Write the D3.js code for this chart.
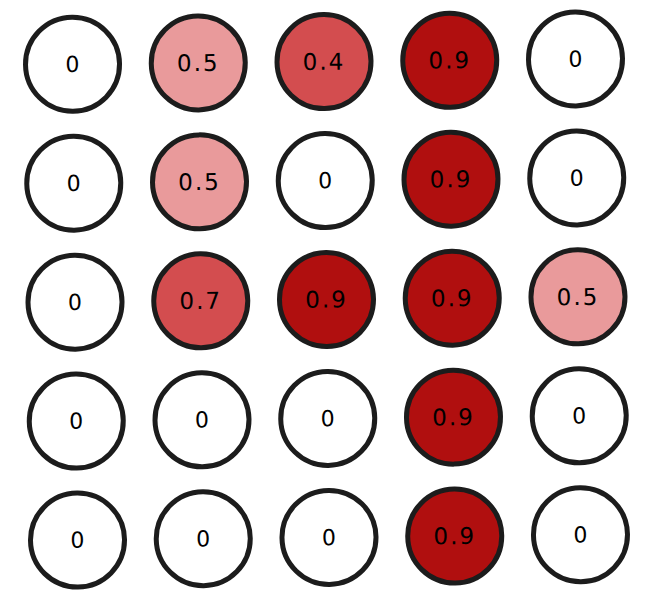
<!DOCTYPE html>
<html>
<head>
<meta charset="utf-8">
<script src="https://cdn.jsdelivr.net/npm/d3@7"></script>
<style>
  html, body { margin: 0; padding: 0; background: #fff; }
  svg { display: block; }
</style>
</head>
<body>
<svg id="chart" width="647" height="602"></svg>
<script>
// ---- data ----
const rows = ["r1", "r2", "r3", "r4", "r5"];
const cols = ["c1", "c2", "c3", "c4", "c5"];
const row1 = [0, 0.5, 0.4, 0.9, 0];
const row2 = [0, 0.5, 0, 0.9, 0];
const row3 = [0, 0.7, 0.9, 0.9, 0.5];
const row4 = [0, 0, 0, 0.9, 0];
const row5 = [0, 0, 0, 0.9, 0];
const valueRows = [row1, row2, row3, row4, row5];
const colorKeys = [0, 0.4, 0.5, 0.7, 0.9];
const colorVals = ["#ffffff", "#d34d4f", "#e99a9b", "#d34d4f", "#b00f0f"];

const cells = [];
rows.forEach((r, i) => cols.forEach((c, j) => cells.push({ row: r, col: c, value: valueRows[i][j] })));

const svg = d3.select("#chart");
const x = d3.scalePoint().domain(cols).range([75, 578]);
const y = d3.scalePoint().domain(rows).range([61.6, 537.4]);
const color = d3.scaleOrdinal().domain(colorKeys).range(colorVals);
const r = 47;

const cx = (75 + 578) / 2, cy = (61.6 + 537.4) / 2;
const g = svg.append("g").attr("transform", `rotate(-0.6, ${cx}, ${cy})`);

const cell = g.selectAll("g.cell").data(cells).join("g")
  .attr("class", "cell")
  .attr("transform", d => `translate(${x(d.col)},${y(d.row)})`);

cell.append("circle")
  .attr("r", r)
  .attr("fill", d => color(d.value))
  .attr("stroke", "#1c1c1c")
  .attr("stroke-width", 5);

cell.append("text")
  .attr("text-anchor", "middle")
  .attr("dy", "0.35em")
  .attr("font-family", "'DejaVu Sans', sans-serif")
  .attr("font-size", d => d.value === 0 ? 22 : 23)
  .attr("letter-spacing", d => d.value === 0 ? 0 : 2)
  .attr("fill", "#000")
  .text(d => String(d.value));
</script>
</body>
</html>
